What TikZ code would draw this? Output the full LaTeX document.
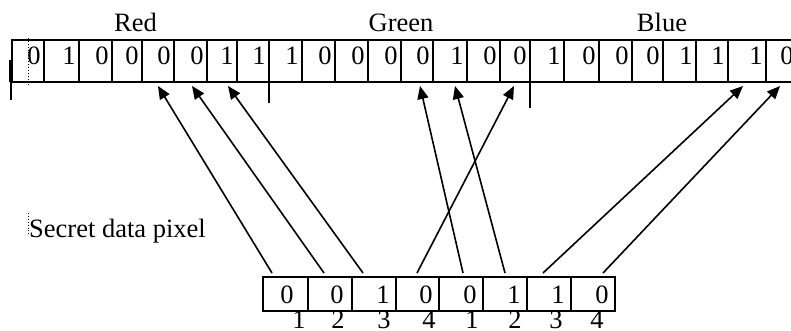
\documentclass[tikz,border=0pt]{standalone}
\usepackage{fontspec}
\setmainfont{Liberation Serif}
\usetikzlibrary{arrows.meta,calc}
\begin{document}
\begin{tikzpicture}[x=1pt,y=-1pt,
  cell/.style={draw, line width=1.3pt, rectangle, inner sep=0pt, outer sep=0pt, minimum height=42pt},
  bcell/.style={draw, line width=1.3pt, rectangle, inner sep=0pt, outer sep=0pt, minimum height=34pt},
  txt/.style={inner sep=0pt, anchor=base, font=\fontsize{26.5}{30}\selectfont},
  link/.style={line width=1.6pt, -{Triangle[length=13pt,width=11pt]}},
  tick/.style={line width=1.3pt}]
\useasboundingbox (0,0) rectangle (791,331);
% top register
\foreach \l/\r/\b [count=\i] in {12/44/0,44/79/1,79/112/0,112/142/0,142/174/0,174/207/0,207/237/1,237/269/1,
  269/302/1,302/335/0,335/368/0,368/401/0,401/433/0,433/467/1,467/500/0,500/530/0,
  530/564/1,564/599/0,599/632/0,632/663/0,663/696/1,696/728/1,728/766/1,766/797/0} {
  \node[cell, minimum width={(\r-\l)*1pt}] (t\i) at ({(\l+\r)/2}, 61) {};
  \node[txt] (d\i) at ({\r-10}, 65) {\b};
}
\node[txt] (red) at (135.5, 32) {Red};
\node[txt] (green) at (401, 32) {Green};
\node[txt] (blue) at (662, 32) {Blue};
% ticks below register
\draw[tick] (t9.south west) -- ++(0,21);
\draw[tick] (t17.south west) -- ++(0,26);
\draw[line width=2.4pt] (10.5,60) -- (10.5,82);
\draw[tick] (11,82) -- (11,100);
\draw[dotted, line width=0.9pt] (28,38) -- (28,87);
% secret data
\node[txt, anchor=base west] (secret) at (29, 237) {Secret data pixel};
\draw[dotted, line width=0.9pt] (28,213) -- (28,235);
% bottom register
\foreach \l/\r/\b/\dx/\n/\nx [count=\i] in {263/308/0/287/1/299, 308/352/0/337/2/338, 352/396/1/383/3/384, 396/439/0/426/4/429,
  439/483/0/470/1/472, 483/527/1/514/2/515, 527/571/1/558/3/556, 571/615/0/602/4/597} {
  \node[bcell, minimum width={(\r-\l)*1pt}] (b\i) at ({(\l+\r)/2}, 294) {};
  \node[txt] (bd\i) at (\dx, 303) {\b};
  \node[txt] (bn\i) at (\nx, 328.5) {\n};
}
% connectors
\draw[link] ($(b1.north)+(-13.5,-4)$) -- ($(t5.south)+(0,4)$);
\draw[link] ($(b2.north)+(-6,-4)$) -- ($(t6.south)+(1.5,4)$);
\draw[link] ($(b3.north)+(-11,-4)$) -- ($(t7.south)+(6,4)$);
\draw[link] ($(b4.north)+(-0.5,-4)$) -- ($(t16.south)+(-1,4)$);
\draw[link] ($(b5.north)+(2,-4)$) -- ($(t13.south)+(3,4)$);
\draw[link] ($(b6.north)+(0,-4)$) -- ($(t14.south)+(5,4)$);
\draw[link] ($(b7.north)+(-6,-4)$) -- ($(t23.south)+(-4,4)$);
\draw[link] ($(b8.north)+(10,-4)$) -- ($(t24.south)+(-1.5,4)$);
\end{tikzpicture}
\end{document}
